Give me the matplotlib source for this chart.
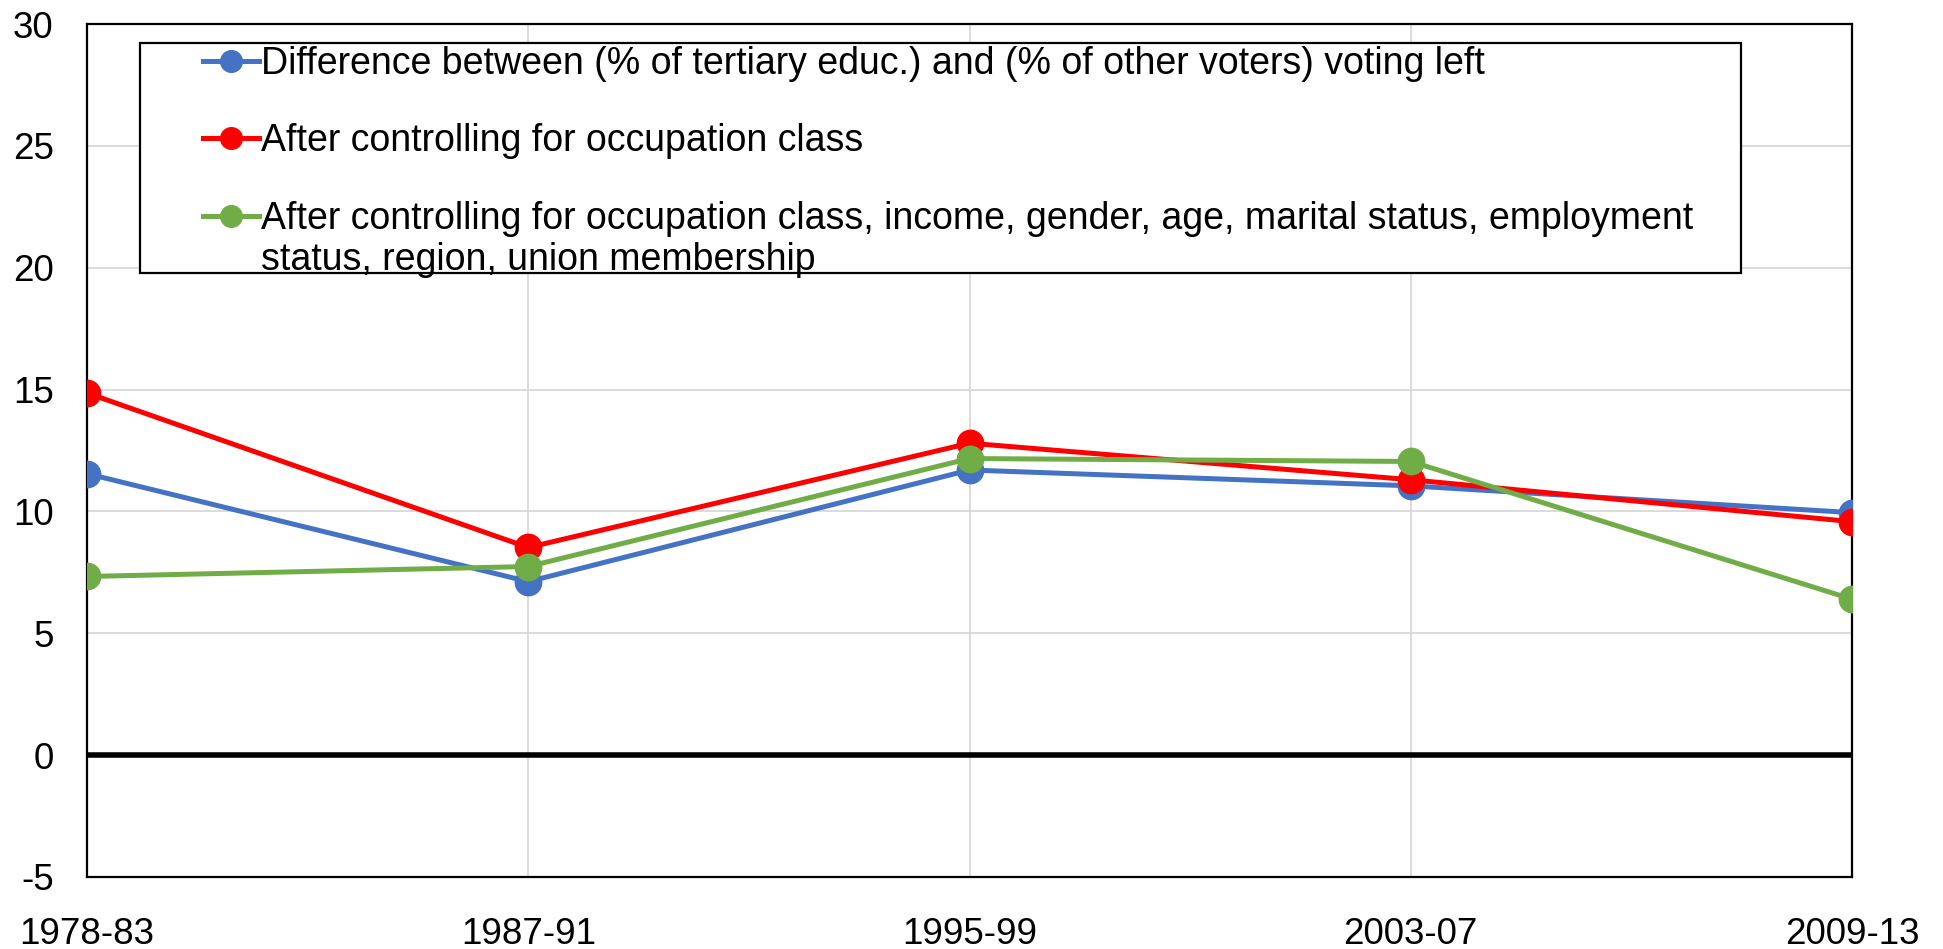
import matplotlib.pyplot as plt
from matplotlib.patches import Rectangle

periods = ["1978-83", "1987-91", "1995-99", "2003-07", "2009-13"]
raw_gap = [11.55, 7.12, 11.7, 11.05, 9.95]
ctrl_class = [14.86, 8.52, 12.8, 11.3, 9.58]
ctrl_all = [7.33, 7.74, 12.17, 12.05, 6.4]

labels = [
    "Difference between (% of tertiary educ.) and (% of other voters) voting left",
    "After controlling for occupation class",
    "After controlling for occupation class, income, gender, age, marital status, employment",
]
label3_cont = "status, region, union membership"
colors = ["#4472C4", "#FF0000", "#70AD47"]
yticks = [-5, 0, 5, 10, 15, 20, 25, 30]

plt.rcParams['font.family'] = ['Liberation Sans', 'DejaVu Sans']
plt.rcParams['axes.unicode_minus'] = False

fig = plt.figure(figsize=(19.43, 9.49), dpi=100)
ax = fig.add_axes([0.04478, 0.07587, 0.90842, 0.89884])

x = range(len(periods))
for vals, col, lab in zip([raw_gap, ctrl_class, ctrl_all], colors, labels):
    ax.plot(x, vals, color=col, lw=3.6, marker="o", markersize=19, label=lab, zorder=4)

ax.axhline(0, color="black", lw=4, zorder=3)
ax.set_xlim(0, len(periods) - 1)
ax.set_ylim(-5, 30)
ax.set_xticks(list(x))
ax.set_xticklabels(periods)
ax.set_yticks(yticks)
ax.grid(True, color="#d9d9d9", lw=1.3, zorder=0)
ax.set_axisbelow(True)
ax.tick_params(length=0, labelsize=26.5)
ax.tick_params(axis="y", pad=24)
ax.tick_params(axis="x", pad=29)
for s in ax.spines.values():
    s.set_linewidth(1.6)
    s.set_color("black")

box = Rectangle((0.030, 0.708), 0.907, 0.2697, transform=ax.transAxes,
                facecolor="white", edgecolor="black", lw=1.6, zorder=5)
ax.add_patch(box)
leg = ax.legend(loc="upper left", bbox_to_anchor=(0.055, 0.996), frameon=False,
                fontsize=27, handlelength=1.5, handletextpad=0.05, borderpad=0,
                labelspacing=1.1, markerscale=0.82)
leg.set_zorder(6)
# second line of the third entry, hung under its first line
ax.annotate(label3_cont, xy=(0, 0), xycoords=leg.get_texts()[2],
            xytext=(0, -24), textcoords="offset points", va="baseline",
            fontsize=27, zorder=7)

fig.savefig("out.png", dpi=100)
